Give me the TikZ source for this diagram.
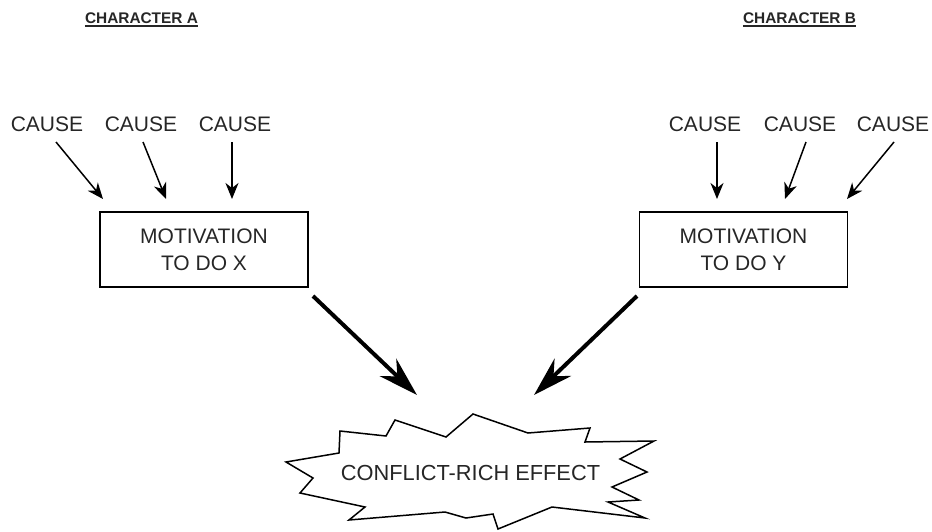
\documentclass[tikz,border=0pt]{standalone}
\usepackage{fontspec}
\setmainfont{Liberation Sans}
\usetikzlibrary{arrows.meta}
\definecolor{txt}{HTML}{262626}
\begin{document}
\begin{tikzpicture}[x=1pt,y=-1pt,
  lbl/.style={font=\fontsize{21}{27}\selectfont, text=txt, inner sep=0pt, anchor=base},
  hdr/.style={font=\fontsize{15.4}{18}\selectfont\bfseries, text=txt, inner sep=0pt, anchor=base},
  box/.style={draw=black, line width=1.5pt, minimum width=208pt, minimum height=75pt, inner sep=0pt,
    align=center, font=\fontsize{21}{27}\selectfont, text=txt},
  causearrow/.style={draw=black, line width=1.5pt, -{Stealth[length=16pt, width=13pt, inset=5pt]}},
  bigarrow/.style={draw=black, line width=4pt, -{Stealth[length=40pt, width=24pt, inset=13pt]}},
  burst/.style={draw=black, line width=1.5pt, line join=miter, fill=white}]
\useasboundingbox (0,0) rectangle (932,531);
% headers
\node[hdr] (hA) at (141.5,23) {CHARACTER A};
\node[hdr] (hB) at (799.5,23) {CHARACTER B};
\draw[line width=1.8pt, txt] ([yshift=-3pt]hA.base west) -- ([yshift=-3pt]hA.base east);
\draw[line width=1.8pt, txt] ([yshift=-3pt]hB.base west) -- ([yshift=-3pt]hB.base east);
% causes
\node[lbl] (a1) at (47,131) {CAUSE};
\node[lbl] (a2) at (141,131) {CAUSE};
\node[lbl] (a3) at (235,131) {CAUSE};
\node[lbl] (b1) at (705,131) {CAUSE};
\node[lbl] (b2) at (800,131) {CAUSE};
\node[lbl] (b3) at (893,131) {CAUSE};
% boxes
\node[box] (bx) at (204,249.5) {MOTIVATION\\TO DO X};
\node[box] (by) at (743.5,249.5) {MOTIVATION\\TO DO Y};
% arrow ends
\coordinate (a1s) at (56,142);  \coordinate (a1e) at (103,199);
\coordinate (a2s) at (143,142); \coordinate (a2e) at (166,199);
\coordinate (a3s) at (232,142); \coordinate (a3e) at (232,199);
\coordinate (b1s) at (717,142); \coordinate (b1e) at (717,199);
\coordinate (b2s) at (806,142); \coordinate (b2e) at (785,199);
\coordinate (b3s) at (894,142); \coordinate (b3e) at (847,199);
\coordinate (xs) at (313,296); \coordinate (xe) at (417,395);
\coordinate (ys) at (637,296); \coordinate (ye) at (534,395);
\draw[causearrow] (a1s) -- (a1e);
\draw[causearrow] (a2s) -- (a2e);
\draw[causearrow] (a3s) -- (a3e);
\draw[causearrow] (b1s) -- (b1e);
\draw[causearrow] (b2s) -- (b2e);
\draw[causearrow] (b3s) -- (b3e);
\draw[bigarrow] (xs) -- (xe);
\draw[bigarrow] (ys) -- (ye);
% starburst
\draw[burst] (286,462) -- (339,453) -- (340,431) -- (386,436) -- (395,420) -- (446,437)
  -- (473,414) -- (528,433) -- (590,428) -- (585,442) -- (654,441) -- (620,459)
  -- (647,472) -- (612,487) -- (639,500) -- (608,502) -- (645,518) -- (552,507)
  -- (498,529) -- (493,514) -- (466,518) -- (445,512) -- (349,520) -- (365,507)
  -- (300,493) -- (313,478) -- cycle;
\node[lbl, font=\fontsize{21.8}{27}\selectfont] (eff) at (470.5,480) {CONFLICT-RICH EFFECT};
\end{tikzpicture}
\end{document}
